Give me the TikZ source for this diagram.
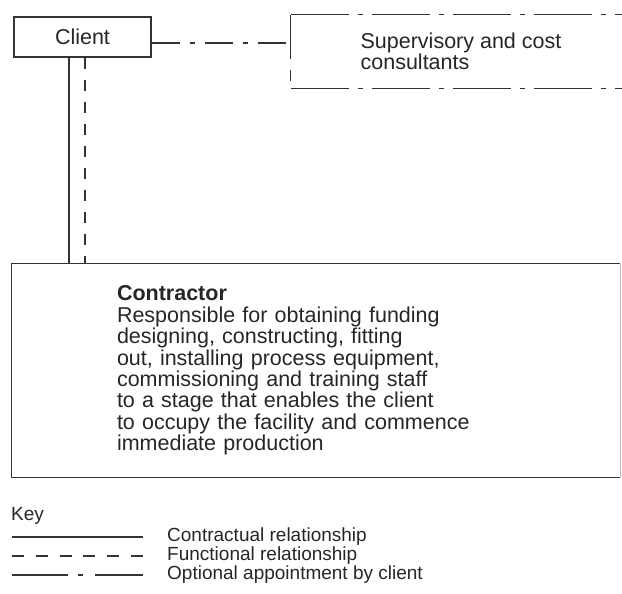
\documentclass[tikz,border=0pt]{standalone}
\usepackage{fontspec}
\setmainfont{Liberation Sans}
\tikzset{
  ink/.style={black!80, line width=1.1pt},
  contract/.style={ink},
  functional/.style={ink, dash pattern=on 11pt off 11pt},
  optional/.style={ink, dash pattern=on 28pt off 10pt on 5pt off 10pt},
  edgeopt/.style={ink, dash pattern=on 58pt off 9pt on 5pt off 9pt},
  keyfunc/.style={ink, dash pattern=on 12pt off 11.8pt},
  keyopt/.style={ink, dash pattern=on 56pt off 10pt on 5pt off 12pt},
  boxtext/.style={font=\fontsize{21.5}{21.4}\selectfont, text=black!85},
  keytext/.style={font=\fontsize{19}{19}\selectfont, text=black!85, inner sep=1pt},
}
\begin{document}
\begin{tikzpicture}[x=1pt,y=-1pt]
  \useasboundingbox (0,0) rectangle (622,594);

  % parties
  \node[ink, boxtext, draw, minimum width=137pt, minimum height=40pt] (client) at (82.5,37) {Client};
  \node[boxtext, minimum width=340pt, minimum height=73pt, align=left] (super) at (461,51.5) {Supervisory and cost\\consultants};
  \node[boxtext, minimum width=608pt, minimum height=213pt,
        text width=398pt, inner xsep=105pt, align=left] (contractor) at (316,370.5)
       {\textbf{Contractor}\\
        Responsible for obtaining funding\\
        designing, constructing, fitting\\
        out, installing process equipment,\\
        commissioning and training staff\\
        to a stage that enables the client\\
        to occupy the facility and commence\\
        immediate production};
  \draw[ink] (contractor.north east) -- (contractor.north west) -- (contractor.south west) -- (contractor.south east);
  \draw[ink, black!25] (contractor.north east) -- (contractor.south east);

  % open box of the consultants
  \coordinate (join) at ([yshift=-6pt]client.east -| super.west);
  \draw[edgeopt] (super.north west) -- (super.north east);
  \draw[edgeopt] (super.south west) -- (super.south east);
  \draw[contract] (super.north west) -- ([yshift=-5pt]join);
  \draw[functional] ([yshift=-5pt]join) -- (super.south west);

  % relationships
  \draw[contract] ([xshift=-13.5pt]client.south) -- ([xshift=-13.5pt]client.south |- contractor.north);
  \draw[functional] ([xshift=2.5pt]client.south) -- ([xshift=2.5pt]client.south |- contractor.north);
  \draw[optional] ([yshift=-6pt]client.east) -- (join);

  % key
  \node[keytext, anchor=west] (keytitle) at (10,516) {Key};
  \foreach \y/\sty/\txt [count=\i] in {537/contract/Contractual relationship,
                                       556/keyfunc/Functional relationship,
                                       575/keyopt/Optional appointment by client}{
    \node[keytext, anchor=west] (key\i) at (166,\y) {\txt};
    \draw[\sty] (12,\y) -- ([xshift=-23pt]key\i.west);
  }
\end{tikzpicture}
\end{document}
